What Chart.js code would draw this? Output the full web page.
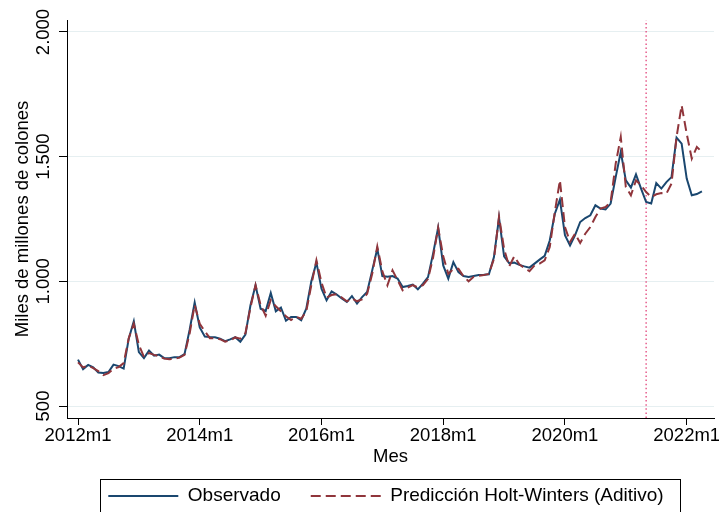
<!DOCTYPE html>
<html>
<head>
<meta charset="utf-8">
<script src="https://cdn.jsdelivr.net/npm/chart.js@4.4.0/dist/chart.umd.min.js"></script>
<style>
  html, body { margin: 0; padding: 0; background: #ffffff; }
  #wrap { width: 719px; height: 512px; }
</style>
</head>
<body>
<div id="wrap"><canvas id="grafico" width="719" height="512"></canvas></div>
<script>
// Serie mensual desde 2012m1 (índice 0) hasta 2022m4 (índice 123), miles de millones de colones
const observado = [
  686, 648, 665, 655, 634, 632, 636, 666, 660, 650, 770, 840,          // 2012
  716, 692, 722, 702, 706, 692, 692, 696, 696, 708, 805, 915,          // 2013
  815, 779, 777, 776, 770, 760, 767, 776, 758, 786, 904, 984,          // 2014
  890, 881, 953, 880, 895, 842, 857, 857, 844, 890, 1000, 1076,        // 2015
  970, 924, 960, 947, 931, 917, 941, 911, 937, 957, 1044, 1131,        // 2016
  1021, 1018, 1021, 1011, 977, 981, 987, 968, 991, 1017, 1111, 1215,   // 2017
  1064, 1011, 1077, 1037, 1021, 1017, 1021, 1025, 1026, 1028, 1097, 1255, // 2018
  1100, 1073, 1075, 1066, 1060, 1055, 1071, 1087, 1102, 1164, 1271, 1328, // 2019
  1185, 1144, 1185, 1238, 1254, 1265, 1305, 1292, 1288, 1312, 1418, 1519, // 2020
  1405, 1376, 1429, 1372, 1318, 1312, 1394, 1372, 1398, 1418, 1576, 1552, // 2021
  1412, 1345, 1350, 1361                                                // 2022
];

const prediccion = [
  675, 655, 662, 652, 640, 624, 632, 650, 656, 672, 772, 830,
  745, 697, 712, 705, 700, 690, 688, 690, 694, 705, 790, 905,
  830, 800, 772, 772, 768, 758, 763, 775, 770, 792, 895, 985,
  905, 862, 925, 900, 880, 860, 845, 858, 850, 880, 985, 1085,
  995, 935, 945, 948, 935, 920, 932, 920, 928, 950, 1030, 1140,
  1040, 984, 1044, 1005, 964, 975, 985, 975, 985, 1010, 1095, 1215,
  1100, 1030, 1050, 1050, 1020, 1000, 1018, 1022, 1025, 1030, 1090, 1260,
  1130, 1060, 1100, 1068, 1053, 1041, 1064, 1071, 1084, 1138, 1278, 1405,
  1218, 1158, 1191, 1154, 1191, 1218, 1258, 1292, 1298, 1318, 1472, 1579,
  1378, 1345, 1405, 1385, 1358, 1338, 1349, 1354, 1352, 1392, 1579, 1706,
  1592, 1492, 1539, 1519
];

// Ejes
const xTickMonths = [0, 24, 48, 72, 96, 120];
const xTickLabels = ['2012m1', '2014m1', '2016m1', '2018m1', '2020m1', '2022m1'];
const yTickValues = [500, 1000, 1500, 2000];
const yTickLabels = ['500', '1.000', '1.500', '2.000'];
const xMin = -2.17, xMax = 125.38;
const yMin = 451.9, yMax = 2048.1;

// Mes de corte de la muestra (2021m5)
const mesCorte = 112;

const FONT = { family: '"Liberation Sans", Arial, Helvetica, sans-serif', size: 18.5 };
const FONT_LEYENDA = { family: '"Liberation Sans", Arial, Helvetica, sans-serif', size: 19 };
const AZUL = '#1a476f';
const GRANATE = '#90353b';

const toPoints = arr => arr.map((v, i) => ({ x: i, y: v }));

// Desplaza la leyenda para centrarla sobre el área de trazado y le dibuja un marco
const marcoLeyenda = {
  id: 'marcoLeyenda',
  afterLayout(chart) {
    const lg = chart.legend;
    if (!lg) return;
    lg.left -= 4.5;
    lg.right -= 4.5;
  },
  afterDraw(chart) {
    const lg = chart.legend;
    if (!lg || !lg.legendHitBoxes || !lg.legendHitBoxes.length) return;
    const hb = lg.legendHitBoxes;
    const first = hb[0], last = hb[hb.length - 1];
    const cy = first.top + first.height / 2;
    const x0 = Math.round(first.left - 8) + 0.5;
    const x1 = Math.round(last.left + last.width + 16) + 0.5;
    const y0 = Math.round(cy - 17) + 0.5;
    const ctx = chart.ctx;
    ctx.save();
    ctx.strokeStyle = '#000';
    ctx.lineWidth = 1;
    ctx.strokeRect(x0, y0, x1 - x0, 40);
    ctx.restore();
  }
};

new Chart(document.getElementById('grafico'), {
  type: 'line',
  data: {
    datasets: [
      {
        label: 'Observado',
        data: toPoints(observado),
        borderColor: AZUL,
        backgroundColor: AZUL,
        borderWidth: 2,
        pointRadius: 0,
        tension: 0,
        order: 1
      },
      {
        label: 'Predicción Holt-Winters (Aditivo)',
        data: toPoints(prediccion),
        borderColor: GRANATE,
        backgroundColor: GRANATE,
        borderWidth: 2,
        borderDash: [10, 5],
        pointRadius: 0,
        tension: 0,
        order: 0
      },
      {
        label: 'corte',
        data: [{ x: mesCorte, y: yMin }, { x: mesCorte, y: yMax }],
        borderColor: '#e2457b',
        borderWidth: 1.3,
        borderDash: [1.5, 2.6],
        pointRadius: 0,
        order: 2
      }
    ]
  },
  options: {
    responsive: false,
    animation: false,
    devicePixelRatio: 1,
    layout: { padding: { top: 20, right: 5, bottom: -3.5, left: 0 } },
    plugins: {
      tooltip: { enabled: false },
      legend: {
        position: 'bottom',
        align: 'center',
        fullSize: false,
        labels: {
          usePointStyle: true,
          pointStyle: 'line',
          pointStyleWidth: 70,
          padding: 30,
          color: '#000',
          font: FONT_LEYENDA,
          generateLabels(chart) {
            const items = Chart.defaults.plugins.legend.labels.generateLabels(chart);
            return items
              .filter(it => it.datasetIndex < 2)
              .sort((a, b) => a.datasetIndex - b.datasetIndex)
              .map(it => {
                const ds = chart.data.datasets[it.datasetIndex];
                it.strokeStyle = ds.borderColor;
                it.lineWidth = ds.borderWidth;
                it.lineDash = ds.borderDash || [];
                it.lineDashOffset = 0;
                it.pointStyle = 'line';
                return it;
              });
          }
        }
      }
    },
    scales: {
      x: {
        type: 'linear',
        min: xMin,
        max: xMax,
        afterBuildTicks: s => { s.ticks = xTickMonths.map(v => ({ value: v })); },
        afterFit: s => { s.height = 38.5; s.paddingLeft = 0; s.paddingRight = 0; },
        ticks: {
          autoSkip: false,
          minRotation: 0,
          maxRotation: 0,
          padding: 0,
          color: '#000',
          font: FONT,
          callback: (v, i) => xTickLabels[i]
        },
        grid: { drawOnChartArea: false, drawTicks: true, tickLength: 7, tickColor: '#000', lineWidth: 1 },
        border: { display: true, color: '#000', width: 1 },
        title: { display: true, text: 'Mes', color: '#000', font: FONT, padding: { top: 0, bottom: -12 } }
      },
      y: {
        type: 'linear',
        min: yMin,
        max: yMax,
        afterBuildTicks: s => { s.ticks = yTickValues.map(v => ({ value: v })); },
        afterFit: s => { s.width = 67; s.paddingTop = 0; s.paddingBottom = 0; },
        ticks: {
          minRotation: 90,
          maxRotation: 90,
          crossAlign: 'center',
          padding: -8,
          color: '#000',
          font: FONT,
          callback: (v, i) => yTickLabels[i]
        },
        grid: { color: '#e6eff1', tickColor: '#000', tickLength: 8, lineWidth: 1 },
        border: { display: true, color: '#000', width: 1 },
        title: { display: true, text: 'Miles de millones de colones', color: '#000', font: FONT, padding: { top: 11.5, bottom: 0 } }
      }
    }
  },
  plugins: [marcoLeyenda]
});
</script>
</body>
</html>
